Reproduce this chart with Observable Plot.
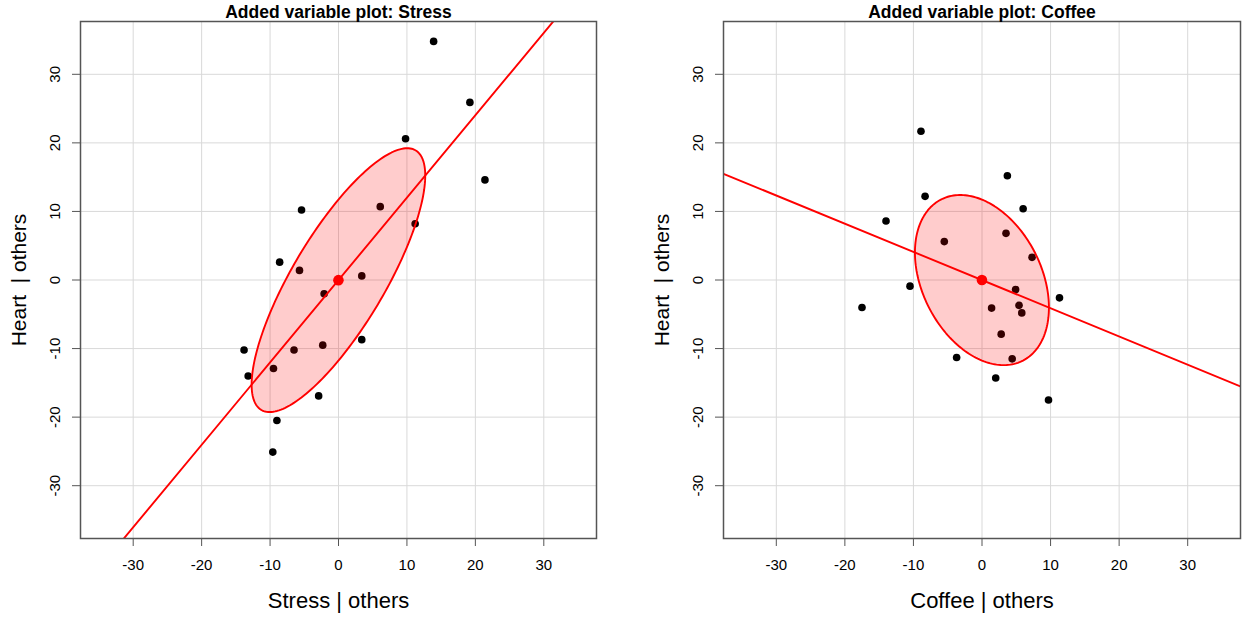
<!DOCTYPE html>
<html>
<head>
<meta charset="utf-8">
<script src="https://cdn.jsdelivr.net/npm/d3@7"></script>
<script src="https://cdn.jsdelivr.net/npm/@observablehq/plot@0.6"></script>
<style>
  html, body { margin: 0; padding: 0; background: #fff; }
  #wrap { display: flex; flex-direction: row; width: 1244px; height: 617px; }
  #wrap svg { display: block; }
</style>
</head>
<body>
<div id="wrap"></div>
<script>
// ---- data ----
const stressX = [13.9, 19.2, 9.8, 21.4, -5.4, 6.1, 11.2, -8.6, -5.7, 3.4, -2.1, -13.8, -13.2, -9.5, -6.5, -2.3, 3.4, -2.9, -9.0, -9.6];
const stressY = [34.8, 25.9, 20.6, 14.6, 10.2, 10.7, 8.2, 2.6, 1.4, 0.6, -2.0, -10.2, -14.0, -12.9, -10.2, -9.5, -8.7, -16.9, -20.5, -25.1];
const coffeeX = [-8.9, 3.7, -8.3, 6.0, -14.0, -5.5, 3.5, 7.3, -10.5, 4.9, 11.3, -17.5, 1.4, 5.4, 5.8, 2.8, -3.7, 4.4, 2.0, 9.7];
const coffeeY = [21.7, 15.2, 12.2, 10.4, 8.6, 5.6, 6.8, 3.3, -0.9, -1.4, -2.6, -4.0, -4.1, -3.7, -4.8, -7.9, -11.3, -11.5, -14.3, -17.5];
const ticks = [-30, -20, -10, 0, 10, 20, 30];
const titles = ["Added variable plot: Stress", "Added variable plot: Coffee"];
const xLabels = ["Stress | others", "Coffee | others"];
const yLabel = "Heart  | others";
const domain = [-37.7, 37.7];
const ellipseLevel = 0.5;

const FONT = "'Liberation Sans', Arial, Helvetica, sans-serif";

function panel(xs, ys, title, xLabel, marginLeft, marginRight) {
  const n = xs.length;
  const pts = xs.map((x, i) => ({x, y: ys[i]}));
  const mx = d3.mean(xs), my = d3.mean(ys);
  let sxx = 0, syy = 0, sxy = 0;
  for (const p of pts) {
    sxx += (p.x - mx) ** 2; syy += (p.y - my) ** 2; sxy += (p.x - mx) * (p.y - my);
  }
  const slope = sxy / sxx;
  const line = domain.map(x => ({x, y: my + slope * (x - mx)}));
  // data ellipse: radius sqrt(2 * qf(level, 2, n-1))
  const nu = n - 1;
  const qf = nu / 2 * (Math.pow(1 - ellipseLevel, -2 / nu) - 1);
  const r = Math.sqrt(2 * qf);
  const cxx = sxx / nu, cyy = syy / nu, cxy = sxy / nu;
  const l11 = Math.sqrt(cxx), l21 = cxy / l11, l22 = Math.sqrt(cyy - l21 * l21);
  const ell = d3.range(0, 201).map(i => {
    const t = 2 * Math.PI * i / 200;
    const u = Math.cos(t), v = Math.sin(t);
    return {x: mx + r * l11 * u, y: my + r * (l21 * u + l22 * v)};
  });

  return Plot.plot({
    width: 622,
    height: 617,
    marginLeft, marginRight,
    marginTop: 21,
    marginBottom: 79,
    x: {domain, label: null},
    y: {domain, label: null},
    style: {fontFamily: FONT, background: "white", color: "black", overflow: "visible"},
    marks: [
      Plot.gridX(ticks, {stroke: "#d9d9d9", strokeOpacity: 1, strokeWidth: 1}),
      Plot.gridY(ticks, {stroke: "#d9d9d9", strokeOpacity: 1, strokeWidth: 1}),
      Plot.dot(pts, {x: "x", y: "y", r: 3.8, fill: "black", stroke: null}),
      Plot.line(ell, {x: "x", y: "y", fill: "red", fillOpacity: 0.2, stroke: "red", strokeWidth: 1.9}),
      Plot.line(line, {x: "x", y: "y", stroke: "red", strokeWidth: 1.9, clip: true}),
      Plot.dot([{x: mx, y: my}], {x: "x", y: "y", r: 5.3, fill: "red", stroke: null}),
      Plot.frame({stroke: "#555", strokeWidth: 1.5}),
      Plot.axisX({ticks, tickSize: 8, tickPadding: 13, fontSize: 15, label: null, stroke: "#555", tickFormat: d => String(d)}),
      Plot.axisY({ticks, tickSize: 8, label: null, stroke: "#555", tickFormat: () => ""}),
      Plot.text(ticks, {y: d => d, text: d => String(d), frameAnchor: "left", dx: -25, rotate: -90, textAnchor: "middle", lineAnchor: "middle", fontSize: 15, fill: "black"}),
      Plot.text([title], {text: d => d, frameAnchor: "top", dy: -4, lineAnchor: "bottom", fontSize: 17.5, fontWeight: "bold", fill: "black"}),
      Plot.text([xLabel], {text: d => d, frameAnchor: "bottom", dy: 62, lineAnchor: "middle", fontSize: 22, fill: "black"}),
      Plot.text([yLabel], {text: d => d, frameAnchor: "left", dx: -61, rotate: -90, textAnchor: "middle", lineAnchor: "middle", fontSize: 21, fill: "black", style: "white-space: pre"})
    ]
  });
}

const wrap = document.getElementById("wrap");
wrap.appendChild(panel(stressX, stressY, titles[0], xLabels[0], 80, 26));
wrap.appendChild(panel(coffeeX, coffeeY, titles[1], xLabels[1], 101, 4));
</script>
</body>
</html>
